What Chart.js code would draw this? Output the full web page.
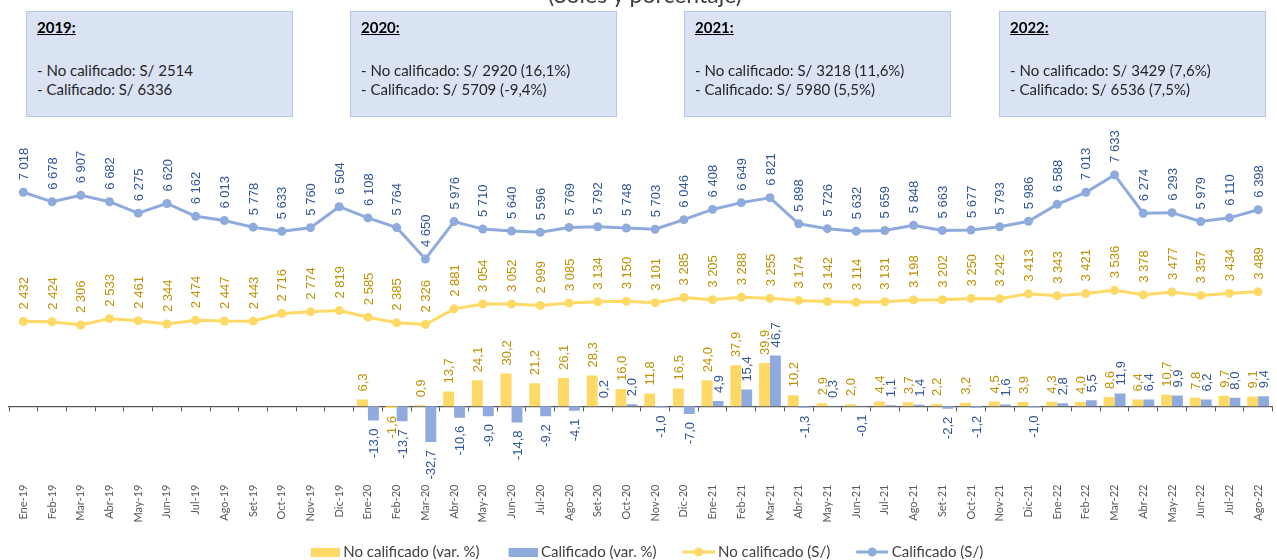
<!DOCTYPE html>
<html>
<head>
<meta charset="utf-8">
<script src="https://cdn.jsdelivr.net/npm/chart.js@4.4.0/dist/chart.umd.min.js"></script>
<style>
  html, body { margin: 0; padding: 0; background: #fff; }
  #wrap { position: relative; width: 1277px; height: 560px; overflow: hidden; }
  #canvas { position: absolute; left: 0; top: 0; }
  .title { position: absolute; top: -17px; left: 495px; width: 300px; text-align: center; font: 23px/23px Lato; color: #404040; white-space: nowrap; }
  .box { position: absolute; top: 11px; width: 267px; height: 106px; background: #dae3f3; border: 1px solid #b4c7e7; box-sizing: border-box; font: 15px Lato; color: #262626; }
  .box .yr { position: absolute; left: 10px; top: 6px; font-weight: bold; text-decoration: underline; color: #000; }
  .box .l1 { position: absolute; left: 10px; top: 49px; white-space: nowrap; }
  .box .l2 { position: absolute; left: 10px; top: 68px; white-space: nowrap; }
</style>
</head>
<body>
<div id="wrap">
  <canvas id="canvas" width="1277" height="560"></canvas>
  <div class="title">(Soles y porcentaje)</div>
  <div class="box" style="left:26px"><span class="yr">2019:</span><span class="l1">- No calificado: S/ 2514</span><span class="l2">- Calificado: S/ 6336</span></div>
  <div class="box" style="left:350px"><span class="yr">2020:</span><span class="l1">- No calificado: S/ 2920 (16,1%)</span><span class="l2">- Calificado: S/ 5709 (-9,4%)</span></div>
  <div class="box" style="left:684px"><span class="yr">2021:</span><span class="l1">- No calificado: S/ 3218 (11,6%)</span><span class="l2">- Calificado: S/ 5980 (5,5%)</span></div>
  <div class="box" style="left:999px"><span class="yr">2022:</span><span class="l1">- No calificado: S/ 3429 (7,6%)</span><span class="l2">- Calificado: S/ 6536 (7,5%)</span></div>
</div>
<script>
var months = ['Ene-19','Feb-19','Mar-19','Abr-19','May-19','Jun-19','Jul-19','Ago-19','Set-19','Oct-19','Nov-19','Dic-19',
  'Ene-20','Feb-20','Mar-20','Abr-20','May-20','Jun-20','Jul-20','Ago-20','Set-20','Oct-20','Nov-20','Dic-20',
  'Ene-21','Feb-21','Mar-21','Abr-21','May-21','Jun-21','Jul-21','Ago-21','Set-21','Oct-21','Nov-21','Dic-21',
  'Ene-22','Feb-22','Mar-22','Abr-22','May-22','Jun-22','Jul-22','Ago-22'];

var noCalifSoles = [2432, 2424, 2306, 2533, 2461, 2344, 2474, 2447, 2443, 2716, 2774, 2819,
  2585, 2385, 2326, 2881, 3054, 3052, 2999, 3085, 3134, 3150, 3101, 3285,
  3205, 3288, 3255, 3174, 3142, 3114, 3131, 3198, 3202, 3250, 3242, 3413,
  3343, 3421, 3536, 3378, 3477, 3357, 3434, 3489];

var califSoles = [7018, 6678, 6907, 6682, 6275, 6620, 6162, 6013, 5778, 5633, 5760, 6504,
  6108, 5764, 4650, 5976, 5710, 5640, 5596, 5769, 5792, 5748, 5703, 6046,
  6408, 6649, 6821, 5898, 5726, 5632, 5659, 5848, 5663, 5677, 5793, 5986,
  6588, 7013, 7633, 6274, 6293, 5979, 6110, 6398];

var noCalifVar = [null, null, null, null, null, null, null, null, null, null, null, null,
  6.3, -1.6, 0.9, 13.7, 24.1, 30.2, 21.2, 26.1, 28.3, 16.0, 11.8, 16.5,
  24.0, 37.9, 39.9, 10.2, 2.9, 2.0, 4.4, 3.7, 2.2, 3.2, 4.5, 3.9,
  4.3, 4.0, 8.6, 6.4, 10.7, 7.8, 9.7, 9.1];

var califVar = [null, null, null, null, null, null, null, null, null, null, null, null,
  -13.0, -13.7, -32.7, -10.6, -9.0, -14.8, -9.2, -4.1, 0.2, 2.0, -1.0, -7.0,
  4.9, 15.4, 46.7, -1.3, 0.3, -0.1, 1.1, 1.4, -2.2, -1.2, 1.6, -1.0,
  2.8, 5.5, 11.9, 6.4, 9.9, 6.2, 8.0, 9.4];

var yellow = '#ffd966', blue = '#8faadc';
var yellowDark = '#bf9000', blueDark = '#2f5597';

function fmtSoles(v) {
  var s = String(Math.round(v));
  return s.length > 3 ? s.slice(0, -3) + ' ' + s.slice(-3) : s;
}
function fmtPct(v) {
  return v.toFixed(1).replace('.', ',');
}

// legend markers: transparent left part works as spacing between items
var MARK_W = 44;
function markerBar(color) {
  var c = document.createElement('canvas');
  c.width = MARK_W; c.height = 9;
  var g = c.getContext('2d');
  g.fillStyle = color;
  g.fillRect(MARK_W - 29, 0, 29, 9);
  return c;
}
function markerLine(color) {
  var c = document.createElement('canvas');
  c.width = MARK_W; c.height = 10;
  var g = c.getContext('2d');
  g.strokeStyle = color;
  g.lineWidth = 3;
  g.beginPath(); g.moveTo(MARK_W - 32, 5); g.lineTo(MARK_W, 5); g.stroke();
  g.fillStyle = color;
  g.beginPath(); g.arc(MARK_W - 16, 5, 4.5, 0, Math.PI * 2); g.fill();
  return c;
}

var valueLabels = {
  id: 'valueLabels',
  afterDatasetsDraw: function(chart) {
    var ctx = chart.ctx;
    chart.data.datasets.forEach(function(ds, i) {
      var meta = chart.getDatasetMeta(i);
      meta.data.forEach(function(el, j) {
        var v = ds.data[j];
        if (v === null || v === undefined) return;
        ctx.save();
        ctx.font = '13px "Liberation Sans", Arial, sans-serif';
        ctx.fillStyle = ds.labelColor;
        ctx.textBaseline = 'middle';
        var y;
        if (ds.type === 'line') {
          y = el.y - 12;
          ctx.textAlign = 'left';
        } else if (v >= 0) {
          y = el.y - 8;
          ctx.textAlign = 'left';
        } else {
          y = el.y + 8;
          ctx.textAlign = 'right';
        }
        ctx.translate(el.x, y);
        ctx.rotate(-Math.PI / 2);
        ctx.fillText(ds.type === 'line' ? fmtSoles(v) : fmtPct(v), 0, 1);
        ctx.restore();
      });
    });
  }
};

var ctx = document.getElementById('canvas').getContext('2d');
var chart = new Chart(ctx, {
  type: 'bar',
  data: {
    labels: months,
    datasets: [
      {
        type: 'bar',
        label: 'No calificado (var. %)',
        data: noCalifVar,
        backgroundColor: yellow,
        labelColor: yellowDark,
        marker: markerBar(yellow),
        yAxisID: 'y',
        categoryPercentage: 0.76,
        barPercentage: 1.0,
        order: 2
      },
      {
        type: 'bar',
        label: 'Calificado (var. %)',
        data: califVar,
        backgroundColor: blue,
        labelColor: blueDark,
        marker: markerBar(blue),
        yAxisID: 'y',
        categoryPercentage: 0.76,
        barPercentage: 1.0,
        order: 2
      },
      {
        type: 'line',
        label: 'No calificado (S/)',
        data: noCalifSoles,
        borderColor: yellow,
        backgroundColor: yellow,
        labelColor: yellowDark,
        marker: markerLine(yellow),
        borderWidth: 3,
        pointRadius: 4.5,
        pointHoverRadius: 4.5,
        pointBorderWidth: 0,
        tension: 0,
        yAxisID: 'ys',
        order: 1
      },
      {
        type: 'line',
        label: 'Calificado (S/)',
        data: califSoles,
        borderColor: blue,
        backgroundColor: blue,
        labelColor: blueDark,
        marker: markerLine(blue),
        borderWidth: 3,
        pointRadius: 4.5,
        pointHoverRadius: 4.5,
        pointBorderWidth: 0,
        tension: 0,
        yAxisID: 'ys',
        order: 1
      }
    ]
  },
  options: {
    responsive: false,
    animation: false,
    layout: { padding: { left: 9, right: 3, top: 140, bottom: -9.5 } },
    plugins: {
      tooltip: { enabled: false },
      legend: {
        position: 'bottom',
        labels: {
          usePointStyle: true,
          pointStyleWidth: MARK_W - 8,
          padding: 18,
          color: '#404040',
          font: { family: 'Lato', size: 15 },
          generateLabels: function(chart) {
            return chart.data.datasets.map(function(ds, i) {
              return { text: ds.label, pointStyle: ds.marker, fontColor: '#404040', datasetIndex: i, lineWidth: 0, hidden: false };
            });
          }
        }
      }
    },
    scales: {
      x: {
        type: 'category',
        offset: true,
        grid: { display: false, drawTicks: false },
        border: { display: false },
        ticks: { autoSkip: false, minRotation: 90, maxRotation: 90, color: '#595959', font: { family: 'Lato', size: 11 }, padding: 4 }
      },
      xz: {
        type: 'category',
        labels: months,
        offset: true,
        position: { y: 0 },
        ticks: { display: false },
        grid: { offset: true, drawOnChartArea: false, drawTicks: true, tickLength: 4, color: '#595959', lineWidth: 1 },
        border: { color: '#595959', width: 1.3 }
      },
      y: { display: false, min: -68.3, max: 245 },
      ys: { display: false, min: -3213, max: 8871 }
    }
  },
  plugins: [valueLabels]
});
</script>
</body>
</html>
